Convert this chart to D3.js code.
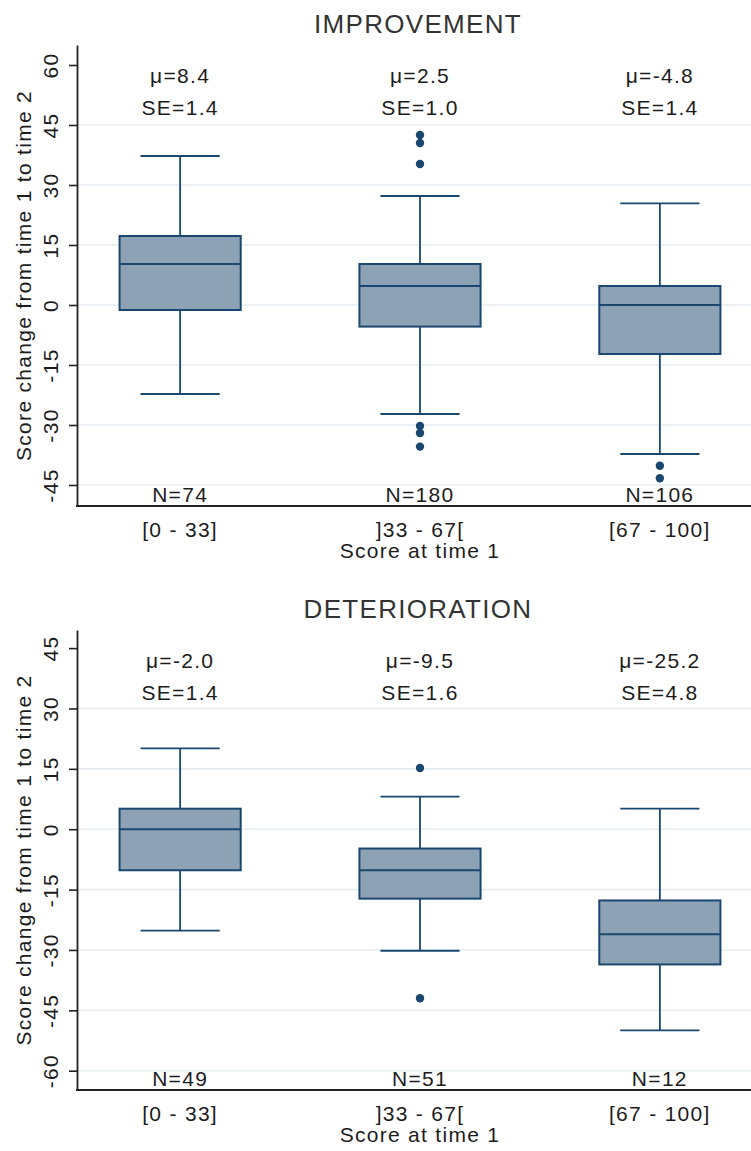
<!DOCTYPE html>
<html>
<head>
<meta charset="utf-8">
<script src="https://cdn.jsdelivr.net/npm/d3@7"></script>
<style>
  body { margin: 0; background: #fff; }
  svg { display: block; }
  text { font-family: "Liberation Sans", Arial, sans-serif; }
</style>
</head>
<body>
<svg id="chart" width="751" height="1151"></svg>
<script>
// Categories of the score at time 1
const groups = ["[0 - 33]", "]33 - 67[", "[67 - 100]"];

// IMPROVEMENT: [lower whisker, Q1, median, Q3, upper whisker] per group
const improvementStats = [
  [-22.25, -1.25, 10.25, 17.25, 37.25],
  [-27.25, -5.4, 4.75, 10.25, 27.25],
  [-37.25, -12.25, 0, 4.75, 25.4]
];
const improvementOutliers = [
  [],
  [42.5, 40.5, 35.25, -30.25, -32, -35.4],
  [-40.2, -43.3]
];
const improvementMean = ["8.4", "2.5", "-4.8"];
const improvementSE = ["1.4", "1.0", "1.4"];
const improvementN = ["74", "180", "106"];
const improvementTicks = [-45, -30, -15, 0, 15, 30, 45, 60];

// DETERIORATION
const deteriorationStats = [
  [-25.2, -10.2, 0, 5.1, 20.1],
  [-30.2, -17.25, -10.2, -4.8, 8.1],
  [-50, -33.6, -26.1, -17.7, 5.1]
];
const deteriorationOutliers = [
  [],
  [15.2, -42],
  []
];
const deteriorationMean = ["-2.0", "-9.5", "-25.2"];
const deteriorationSE = ["1.4", "1.6", "4.8"];
const deteriorationN = ["49", "51", "12"];
const deteriorationTicks = [-60, -45, -30, -15, 0, 15, 30, 45];

const panels = [
  { title: "IMPROVEMENT", stats: improvementStats, outliers: improvementOutliers,
    mean: improvementMean, se: improvementSE, n: improvementN, ticks: improvementTicks,
    domain: [-50.25, 65], top: 45, bottom: 506 },
  { title: "DETERIORATION", stats: deteriorationStats, outliers: deteriorationOutliers,
    mean: deteriorationMean, se: deteriorationSE, n: deteriorationN, ticks: deteriorationTicks,
    domain: [-64.8, 49.5], top: 630, bottom: 1090 }
];

const W = 751;
const axisX = 77;
const navy = "#1a476f";
const boxFill = "#8ea2b6";
const gridColor = "#e5edf0";
const textColor = "#1c1c1c";
const fs = 21;
const ls = "1.3px";

const svg = d3.select("#chart");

const x = d3.scalePoint().domain(groups).range([axisX, 763]).padding(0.43);
const step = x.step();
const boxW = step * 0.505;
const capW = step * 0.33;

panels.forEach(p => {
  const g = svg.append("g");
  const y = d3.scaleLinear().domain(p.domain).range([p.bottom, p.top]);
  const midY = (p.top + p.bottom) / 2;

  // gridlines (none at the top label)
  const maxTick = d3.max(p.ticks);
  g.append("g").selectAll("line")
    .data(p.ticks.filter(t => t !== maxTick))
    .join("line")
    .attr("x1", axisX).attr("x2", W)
    .attr("y1", d => y(d)).attr("y2", d => y(d))
    .attr("stroke", gridColor).attr("stroke-width", 1.6);

  // y axis with vertical tick labels
  const ya = g.append("g")
    .attr("transform", `translate(${axisX},0)`)
    .call(d3.axisLeft(y).tickValues(p.ticks).tickSize(8).tickSizeOuter(0)
      .tickFormat(d => String(d)));
  ya.select(".domain").attr("stroke", "#222").attr("stroke-width", 1.8);
  ya.selectAll(".tick line").attr("stroke", "#222").attr("stroke-width", 1.6);
  ya.selectAll(".tick text")
    .attr("transform", "rotate(-90)")
    .attr("x", 0).attr("y", -19).attr("dy", 0)
    .attr("text-anchor", "middle")
    .attr("fill", textColor)
    .style("font-size", fs + "px")
    .style("letter-spacing", ls);

  // y axis title
  g.append("text")
    .attr("transform", `translate(31,${midY}) rotate(-90)`)
    .attr("text-anchor", "middle")
    .attr("fill", textColor)
    .style("font-size", fs + "px")
    .style("letter-spacing", ls)
    .text("Score change from time 1 to time 2");

  // x axis line
  g.append("line")
    .attr("x1", axisX - 1).attr("x2", W)
    .attr("y1", p.bottom).attr("y2", p.bottom)
    .attr("stroke", "#222").attr("stroke-width", 2);

  // panel title
  g.append("text")
    .attr("x", 418).attr("y", p.top - 12)
    .attr("text-anchor", "middle")
    .attr("fill", "#333")
    .style("font-size", "26px")
    .style("letter-spacing", "1.3px")
    .text(p.title);

  // boxes
  const boxes = g.selectAll("g.box")
    .data(groups.map((c, i) => ({ c, s: p.stats[i], o: p.outliers[i], i })))
    .join("g").attr("class", "box");

  boxes.append("line")
    .attr("x1", d => x(d.c)).attr("x2", d => x(d.c))
    .attr("y1", d => y(d.s[4])).attr("y2", d => y(d.s[3]))
    .attr("stroke", navy).attr("stroke-width", 1.8);
  boxes.append("line")
    .attr("x1", d => x(d.c)).attr("x2", d => x(d.c))
    .attr("y1", d => y(d.s[1])).attr("y2", d => y(d.s[0]))
    .attr("stroke", navy).attr("stroke-width", 1.8);
  [0, 4].forEach(k => {
    boxes.append("line")
      .attr("x1", d => x(d.c) - capW / 2).attr("x2", d => x(d.c) + capW / 2)
      .attr("y1", d => y(d.s[k])).attr("y2", d => y(d.s[k]))
      .attr("stroke", navy).attr("stroke-width", 1.8);
  });
  boxes.append("rect")
    .attr("x", d => x(d.c) - boxW / 2).attr("width", boxW)
    .attr("y", d => y(d.s[3])).attr("height", d => y(d.s[1]) - y(d.s[3]))
    .attr("fill", boxFill).attr("stroke", navy).attr("stroke-width", 2);
  boxes.append("line")
    .attr("x1", d => x(d.c) - boxW / 2).attr("x2", d => x(d.c) + boxW / 2)
    .attr("y1", d => y(d.s[2])).attr("y2", d => y(d.s[2]))
    .attr("stroke", navy).attr("stroke-width", 2);

  // outside values
  boxes.each(function (d) {
    d3.select(this).selectAll("circle")
      .data(d.o).join("circle")
      .attr("cx", x(d.c)).attr("cy", v => y(v))
      .attr("r", 4.2).attr("fill", navy);
  });

  // mean / SE / N annotations
  const lbl = (txt, yy) => g.append("g").selectAll("text")
    .data(groups).join("text")
    .attr("x", c => x(c)).attr("y", yy)
    .attr("text-anchor", "middle")
    .attr("fill", textColor)
    .style("font-size", fs + "px")
    .style("letter-spacing", ls)
    .text((c, i) => txt(i));

  lbl(i => "\u03bc=" + p.mean[i], p.top + 38);
  lbl(i => "SE=" + p.se[i], p.top + 70);
  lbl(i => "N=" + p.n[i], p.bottom - 4);
  lbl(i => groups[i], p.bottom + 31);

  // x axis title
  g.append("text")
    .attr("x", (x(groups[0]) + x(groups[2])) / 2).attr("y", p.bottom + 52)
    .attr("text-anchor", "middle")
    .attr("fill", textColor)
    .style("font-size", fs + "px")
    .style("letter-spacing", ls)
    .text("Score at time 1");
});
</script>
</body>
</html>
